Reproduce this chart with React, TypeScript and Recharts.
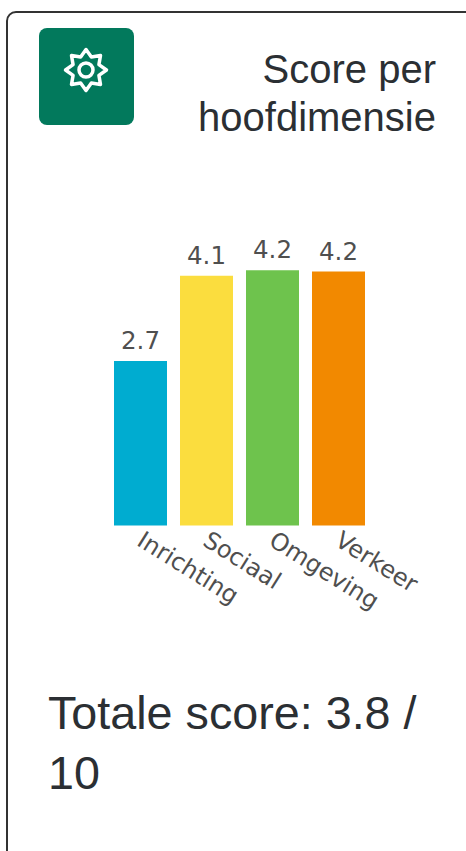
import React from "react";
import { BarChart, Bar, XAxis, YAxis, Cell, LabelList } from "recharts";

const categories = ["Inrichting", "Sociaal", "Omgeving", "Verkeer"];
const scores = [2.7, 4.1, 4.19, 4.17];
const colors = ["#00acd0", "#fbdd3e", "#6ec34d", "#f28900"];
const yDomain = [0, 5];
const titleLines = ["Score per", "hoofdimensie"];
const totalText = "Totale score: 3.8 / 10";

const rows = categories.map((name, i) => ({ name, score: scores[i], color: colors[i] }));
const textGrey = "#4f4f4f";

const Tick = (props: any) => {
  const { x, y, payload } = props;
  const px = x - 5;
  const py = y + 5;
  return (
    <text
      x={px}
      y={py}
      textAnchor="start"
      fill={textGrey}
      fontFamily="'DejaVu Sans'"
      fontSize={24}
      transform={`rotate(32 ${px} ${py})`}
    >
      {payload.value}
    </text>
  );
};

const starPoints = (cx: number, cy: number, R: number, r: number, n: number) => {
  const pts: string[] = [];
  for (let i = 0; i < n * 2; i++) {
    const a = (Math.PI * i) / n - Math.PI / 2;
    const rad = i % 2 === 0 ? R : r;
    pts.push(`${(cx + rad * Math.cos(a)).toFixed(2)},${(cy + rad * Math.sin(a)).toFixed(2)}`);
  }
  return pts.join(" ");
};

export default function App() {
  return (
    <div style={{ position: "absolute", left: 0, top: 0, width: 466, height: 851, overflow: "hidden", background: "#fff", fontFamily: "'Liberation Sans', Arial, sans-serif" }}>
      <div style={{ position: "absolute", left: 6, top: 11, width: 480, height: 900, border: "2px solid #333", borderRadius: 10, boxSizing: "border-box" }} />
      <div style={{ position: "absolute", left: 39, top: 28, width: 95, height: 97, background: "#02795c", borderRadius: 8 }}>
        <svg width={95} height={97} style={{ display: "block" }}>
          <polygon points={starPoints(47, 42, 20.5, 14, 8)} fill="none" stroke="#fff" strokeWidth={3.5} strokeLinejoin="round" />
          <circle cx={47} cy={42} r={7} fill="none" stroke="#fff" strokeWidth={3.5} />
        </svg>
      </div>
      <div style={{ position: "absolute", right: 30, top: 45, width: 320, textAlign: "right", fontSize: 40, lineHeight: "48px", color: "#2b2f33" }}>
        {titleLines.map((l) => (
          <div key={l}>{l}</div>
        ))}
      </div>
      <div style={{ position: "absolute", left: 0, top: 0 }}>
        <BarChart
          width={466}
          height={660}
          data={rows}
          margin={{ top: 221, right: 94.5, bottom: 0, left: 107.5 }}
          barCategoryGap={6.5}
        >
          <XAxis dataKey="name" interval={0} axisLine={false} tickLine={false} height={134.5} tick={<Tick />} tickMargin={0} tickSize={14} />
          <YAxis domain={yDomain} hide />
          <Bar dataKey="score" isAnimationActive={false}>
            {rows.map((r) => (
              <Cell key={r.name} fill={r.color} />
            ))}
            <LabelList
              dataKey="score"
              position="top"
              offset={12}
              formatter={(v: any) => Number(v).toFixed(1)}
              style={{ fontFamily: "'DejaVu Sans'", fontSize: 24.5, fill: textGrey }}
            />
          </Bar>
        </BarChart>
      </div>
      <div style={{ position: "absolute", left: 48, top: 683, width: 390, fontSize: 46.7, lineHeight: "60px", color: "#2b2f33" }}>
        {totalText}
      </div>
    </div>
  );
}
